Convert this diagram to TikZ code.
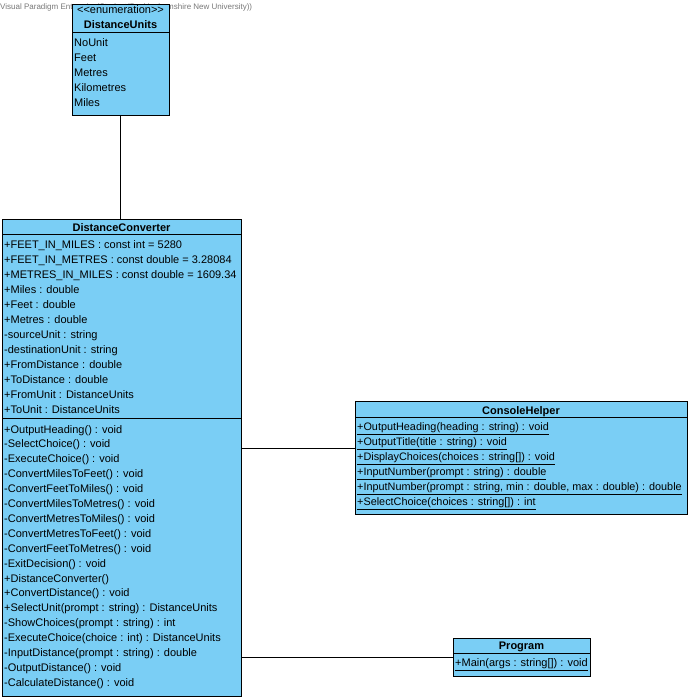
\documentclass[tikz,border=0pt]{standalone}
\usepackage{fontspec}
\setmainfont{Liberation Sans}
\definecolor{classfill}{RGB}{122,206,245}
\definecolor{markgray}{RGB}{120,120,120}
\begin{document}
\begin{tikzpicture}[x=1pt,y=-1pt,
  classbox/.style={draw=black, fill=classfill, line width=0.9pt, rectangle,
    inner sep=0pt, outer sep=0pt, anchor=north west},
  member/.style={anchor=base west, inner sep=0pt, font=\fontsize{11}{13}\selectfont},
  smember/.style={member, font=\fontsize{10.85}{13}\selectfont},
  ctitle/.style={anchor=base, inner sep=0pt, font=\bfseries\fontsize{11}{13}\selectfont},
  divider/.style={draw=black, line width=0.9pt},
  assoc/.style={draw=black, line width=0.9pt}]
\useasboundingbox (0,0) rectangle (691,700);
\fill[white] (0,0) rectangle (691,700);

% editor watermark
\node[anchor=base west, inner sep=0pt, text=markgray,
  font=\fontsize{8}{9}\selectfont] (mark) at (0,9.5)
  {Visual Paradigm Enterprise(Student(Buckinghamshire New University))};

% DistanceUnits enumeration
\node[classbox, minimum width=97pt, minimum height=111pt] (du) at (72,4) {};
\node[member, anchor=base] (duster) at (120.5,14) {<{}<enumeration>{}>};
\node[ctitle] (dut) at (120.5,29) {DistanceUnits};
\draw[divider] (du.west |- 0,32.5) -- (du.east |- 0,32.5);
\foreach \t [count=\i from 0] in {NoUnit,Feet,Metres,Kilometres,Miles}
  \node[member] (du\i) at (74,46.5+15*\i) {\t};

% DistanceConverter class
\node[classbox, minimum width=239pt, minimum height=477pt] (dc) at (2,219) {};
\node[ctitle] (dct) at (121.5,231.5) {DistanceConverter};
\draw[divider] (dc.west |- 0,234.5) -- (dc.east |- 0,234.5);
\foreach \t [count=\i from 0] in {
  +FEET\_IN\_MILES : const int = 5280,
  +FEET\_IN\_METRES : const double = 3.28084,
  +METRES\_IN\_MILES : const double = 1609.34,
  +Miles : double,
  +Feet : double,
  +Metres : double,
  -sourceUnit : string,
  -destinationUnit : string,
  +FromDistance : double,
  +ToDistance : double,
  +FromUnit : DistanceUnits,
  +ToUnit : DistanceUnits}
  \node[member] (dca\i) at (4,248+15*\i) {\t};
\draw[divider] (dc.west |- 0,418.5) -- (dc.east |- 0,418.5);
\foreach \t [count=\i from 0] in {
  +OutputHeading() : void,
  -SelectChoice() : void,
  -ExecuteChoice() : void,
  -ConvertMilesToFeet() : void,
  -ConvertFeetToMiles() : void,
  -ConvertMilesToMetres() : void,
  -ConvertMetresToMiles() : void,
  -ConvertMetresToFeet() : void,
  -ConvertFeetToMetres() : void,
  -ExitDecision() : void,
  +DistanceConverter(),
  +ConvertDistance() : void,
  +SelectUnit(prompt : string) : DistanceUnits,
  -ShowChoices(prompt : string) : int,
  -ExecuteChoice(choice : int) : DistanceUnits,
  -InputDistance(prompt : string) : double,
  -OutputDistance() : void,
  -CalculateDistance() : void}
  \node[member] (dco\i) at (4,433+14.9*\i) {\t};

% ConsoleHelper class (static operations)
\node[classbox, minimum width=332pt, minimum height=113pt] (ch) at (355,401) {};
\node[ctitle] (cht) at (521,414) {ConsoleHelper};
\draw[divider] (ch.west |- 0,417) -- (ch.east |- 0,417);
\foreach \t [count=\i from 0] in {
  {+OutputHeading(heading : string) : void},
  {+OutputTitle(title : string) : void},
  {+DisplayChoices(choices : string[]) : void},
  {+InputNumber(prompt : string) : double},
  {+InputNumber(prompt : string, min : double, max : double) : double},
  {+SelectChoice(choices : string[]) : int}}
  \node[smember] (cho\i) at (357,430.5+15*\i) {\underline{\t}};

% Program class
\node[classbox, minimum width=137pt, minimum height=38pt] (prog) at (453,638) {};
\node[ctitle] (progt) at (521.5,649.5) {Program};
\draw[divider] (prog.west |- 0,653.5) -- (prog.east |- 0,653.5);
\node[member] (progo) at (455,666.5) {\underline{+Main(args : string[]) : void}};

% associations
\draw[assoc] (du.south) -- (du.south |- dc.north);
\draw[assoc] (dc.east |- 0,448) -- (ch.west |- 0,448);
\draw[assoc] (dc.east |- prog.west) -- (prog.west);
\end{tikzpicture}
\end{document}
